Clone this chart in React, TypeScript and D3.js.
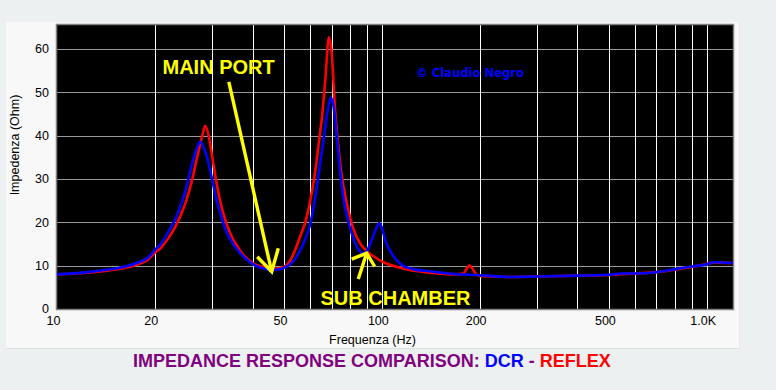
import React from "react";
import * as d3 from "d3";

// ---- data ----
const dcrFreq = [10, 12, 14, 16, 18, 19, 20, 21, 22, 23, 24, 25, 26, 27, 27.6, 28.3, 29, 30, 31, 32, 33, 34.5, 36.5, 38.5, 40.5, 43, 45.5, 48, 50, 52, 54, 56, 58, 60, 62, 64, 66, 68, 69.7, 71, 72.8, 74.3, 76, 78, 80, 82, 84, 86.5, 88, 90, 92, 94, 96, 98, 100, 102.5, 105, 109, 116, 125, 140, 160, 200, 250, 300, 400, 500, 550, 600, 700, 800, 900, 1000, 1050, 1205];
const dcrOhm = [8.0, 8.4, 9.0, 9.7, 10.9, 11.8, 13.6, 15.3, 17.8, 20.4, 23.8, 28.0, 33.3, 37.3, 38.6, 37.2, 34.8, 30.0, 25.0, 21.5, 18.3, 15.5, 13.0, 11.3, 10.1, 9.4, 9.0, 9.1, 9.5, 10.2, 11.5, 13.5, 16.0, 19.2, 24.5, 31.5, 38.5, 45.5, 48.8, 46.8, 39.0, 32.0, 26.0, 21.5, 18.5, 16.0, 14.3, 13.0, 12.8, 13.4, 15.0, 16.8, 18.6, 19.8, 18.8, 15.8, 14.0, 12.0, 10.0, 9.2, 8.7, 8.2, 7.8, 7.4, 7.5, 7.7, 7.9, 8.2, 8.2, 8.5, 9.2, 9.8, 10.3, 10.8, 10.6];

const reflexFreq = [10, 12, 14, 16, 18, 19, 20, 21, 22, 23, 24, 25, 26, 27, 28, 28.6, 29.3, 30, 31, 32, 33, 34, 36.5, 38, 40, 43, 46, 49, 52, 54, 56, 58, 60, 62, 64, 65.6, 67, 68.7, 70, 71.9, 73.3, 75, 78, 82, 86, 90, 95, 101, 110, 122, 140, 170, 178, 186, 195, 200, 250, 300, 400, 500, 600, 700, 800, 900, 1000, 1050, 1205];
const reflexOhm = [8.0, 8.3, 8.8, 9.4, 10.5, 11.3, 13.0, 14.3, 16.3, 18.6, 21.5, 25.0, 29.5, 35.0, 40.0, 42.3, 40.0, 35.5, 29.0, 24.0, 20.5, 17.8, 13.6, 12.0, 10.6, 9.7, 9.3, 9.5, 11.0, 13.5, 16.7, 19.8, 24.5, 30.5, 38.5, 45.2, 53.0, 62.7, 59.5, 45.2, 38.3, 31.5, 24.4, 18.2, 15.0, 13.3, 12.0, 10.8, 9.8, 9.0, 8.4, 8.0, 8.2, 10.0, 8.1, 7.6, 7.4, 7.5, 7.7, 7.85, 8.2, 8.5, 9.1, 9.7, 10.4, 10.7, 10.6];

const xTickValues = [10, 20, 50, 100, 200, 500, 1000];
const xTickLabels = ["10", "20", "50", "100", "200", "500", "1.0K"];
const xGridValues = [20, 30, 40, 50, 60, 70, 80, 90, 100, 200, 300, 400, 500, 600, 700, 800, 900, 1000];
const yTickValues = [0, 10, 20, 30, 40, 50, 60];

// annotation anchors in data space [freq, ohm]
const mainPortArrow = { from: [33.8, 52.4], to: [45.8, 8.6] };
const subChamberArrow = { from: [84.6, 6.9], to: [89.8, 12.9] };

const W = 776;
const H = 390;
const left = 57, right = 733, top = 25, bottom = 309;

export default function App() {
  const x = d3.scaleLog().domain([10, 1205]).range([left, right]);
  const y = d3.scaleLinear().domain([0, 65.54]).range([bottom, top]);

  const line = d3
    .line<[number, number]>()
    .x((d) => x(d[0]))
    .y((d) => y(d[1]))
    .curve(d3.curveMonotoneX);

  const dcr = dcrFreq.map((f, i) => [f, dcrOhm[i]] as [number, number]);
  const reflex = reflexFreq.map((f, i) => [f, reflexOhm[i]] as [number, number]);

  const font = "'Liberation Sans', Arial, sans-serif";

  const mp = {
    x1: x(mainPortArrow.from[0]), y1: y(mainPortArrow.from[1]),
    x2: x(mainPortArrow.to[0]), y2: y(mainPortArrow.to[1]),
  };
  const sc = {
    x1: x(subChamberArrow.from[0]), y1: y(subChamberArrow.from[1]),
    x2: x(subChamberArrow.to[0]), y2: y(subChamberArrow.to[1]),
  };

  return (
    <div style={{ position: "absolute", left: 0, top: 0, width: W, height: H }}>
      <svg width={W} height={H} style={{ display: "block" }}>
        <rect x={0} y={0} width={W} height={H} fill="#edf0f1" />
        <rect x={6} y={22} width={734} height={327} fill="#f8f8f8" />
        <line x1={6} x2={740} y1={348.5} y2={348.5} stroke="#dcdfe0" />
        <line x1={739.5} x2={739.5} y1={22} y2={349} stroke="#e6e8e9" />

        {/* plot background */}
        <rect x={left} y={top} width={right - left} height={bottom - top} fill="#000" />

        {/* grid */}
        {yTickValues.slice(1).map((v) => (
          <line key={"h" + v} x1={left} x2={right} y1={Math.round(y(v)) + 0.5} y2={Math.round(y(v)) + 0.5} stroke="#9a9a9a" strokeWidth={1} />
        ))}
        {xGridValues.map((f) => (
          <line key={"v" + f} x1={Math.round(x(f)) + 0.5} x2={Math.round(x(f)) + 0.5} y1={top} y2={bottom} stroke="#ffffff" strokeWidth={1} />
        ))}

        {/* frame */}
        <rect x={left - 0.5} y={top - 0.5} width={right - left + 1} height={bottom - top + 1} fill="none" stroke="#808080" strokeWidth={1.5} />

        {/* curves */}
        <path d={line(reflex) || ""} fill="none" stroke="#ff0000" strokeWidth={2.6} strokeLinejoin="round" />
        <path d={line(dcr) || ""} fill="none" stroke="#0000ff" strokeWidth={2.6} strokeLinejoin="round" />

        {/* annotations */}
        <text x={162.5} y={74} fill="#ffff00" fontFamily={font} fontWeight="bold" fontSize={20}>MAIN PORT</text>
        <text x={320.5} y={305} fill="#ffff00" fontFamily={font} fontWeight="bold" fontSize={20}>SUB CHAMBER</text>
        <text x={416} y={77} fill="#0000ff" fontFamily="'Comic Sans MS', 'DejaVu Sans', sans-serif" fontWeight="bold" fontSize={12.5} textLength={108} lengthAdjust="spacingAndGlyphs">© Claudio Negro</text>

        <g stroke="#ffff00" strokeWidth={3.4} strokeLinecap="butt" fill="none">
          <line x1={mp.x1} y1={mp.y1} x2={mp.x2} y2={mp.y2} />
          <polyline points={`${mp.x2 - 14.4},${mp.y2 - 15} ${mp.x2},${mp.y2} ${mp.x2 + 6.6},${mp.y2 - 23.4}`} />
          <line x1={sc.x1} y1={sc.y1} x2={sc.x2} y2={sc.y2} />
          <polyline points={`${sc.x2 - 15},${sc.y2 + 6} ${sc.x2},${sc.y2} ${sc.x2 + 8},${sc.y2 + 13.4}`} />
        </g>

        {/* y tick labels */}
        {yTickValues.map((v) => (
          <text key={"yl" + v} x={49} y={y(v)} dy="0.35em" textAnchor="end" fontFamily={font} fontSize={12.5} fill="#000">{v}</text>
        ))}
        {/* x tick labels */}
        {xTickValues.map((f, i) => (
          <text key={"xl" + f} x={x(f) - 3.5} y={325} textAnchor="middle" fontFamily={font} fontSize={12.5} fill="#000">{xTickLabels[i]}</text>
        ))}

        <text x={372.5} y={343.5} textAnchor="middle" fontFamily={font} fontSize={12.5} fill="#000">Frequenza (Hz)</text>
        <text transform="translate(18.5,145) rotate(-90)" textAnchor="middle" fontFamily={font} fontSize={12.5} fill="#000">Impedenza (Ohm)</text>

        {/* title */}
        <text x={133} y={367} fontFamily={font} fontWeight="bold" fontSize={18} fill="#800080">
          IMPEDANCE RESPONSE COMPARISON: <tspan fill="#0000ff">DCR</tspan> - <tspan fill="#ff0000">REFLEX</tspan>
        </text>
      </svg>
    </div>
  );
}
